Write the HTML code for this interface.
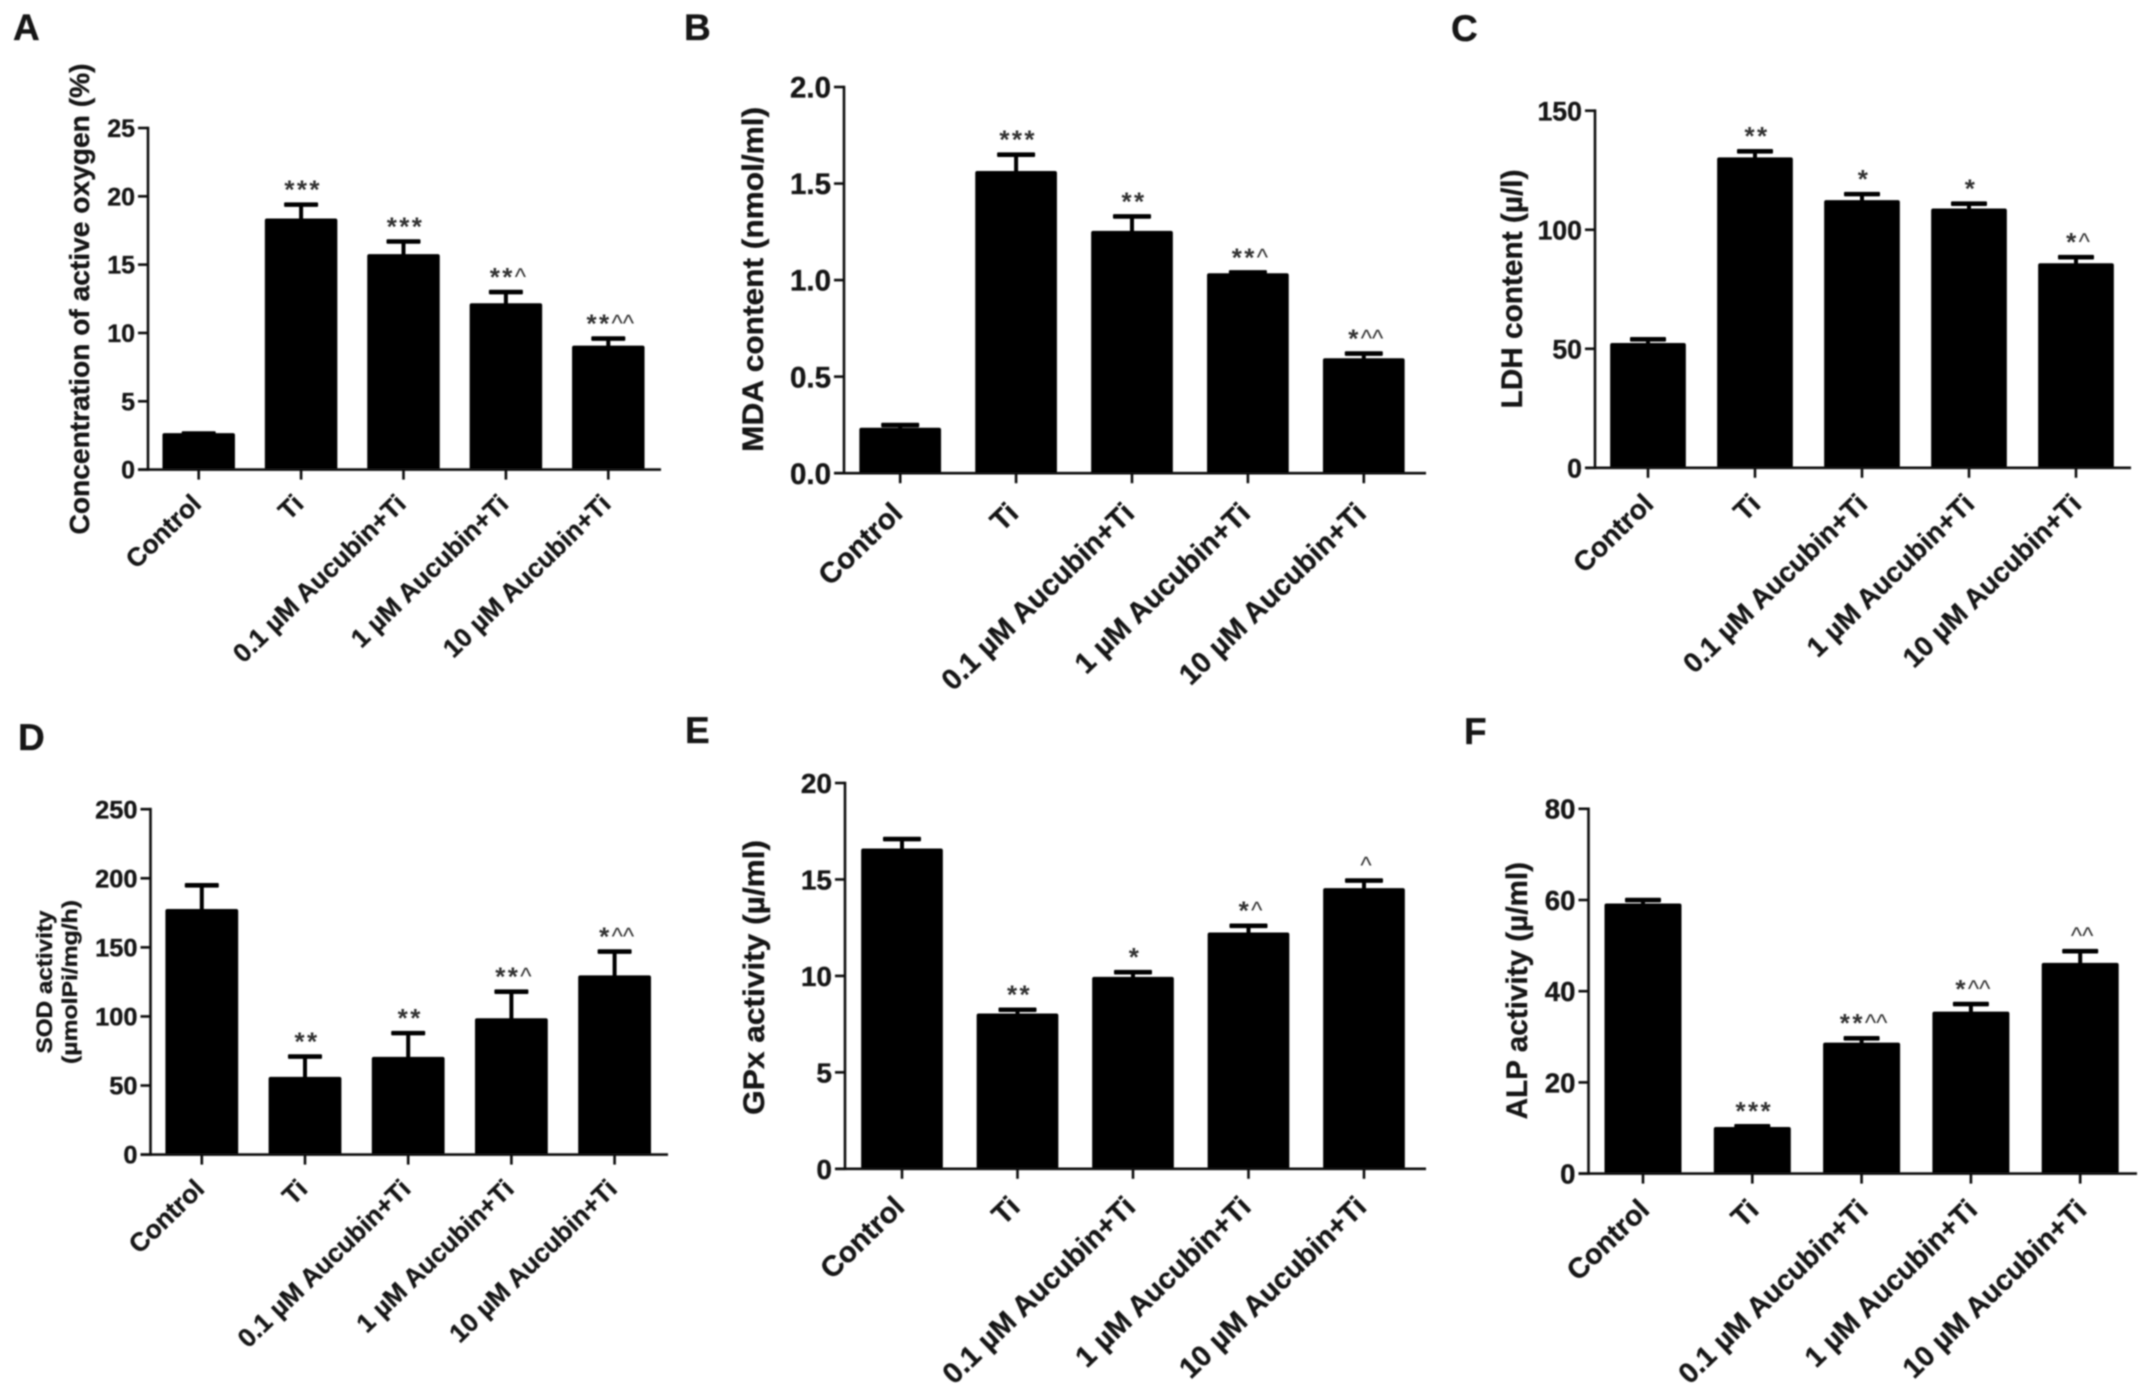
<!DOCTYPE html>
<html lang="en">
<head>
<meta charset="utf-8">
<title>Aucubin bar chart panels</title>
<style>
  html, body { margin: 0; padding: 0; background: #fff; }
  svg { display: block; }
  text { font-family: "Liberation Sans", sans-serif; font-weight: bold; fill: #141414; stroke: #141414; stroke-width: 0.35; }
</style>
</head>
<body>
<svg id="figure" xmlns="http://www.w3.org/2000/svg" width="2150" height="1396" viewBox="0 0 2150 1396">
  <defs>
    <filter id="soft" x="-5%" y="-5%" width="110%" height="110%"><feGaussianBlur stdDeviation="0.8"/></filter>
  </defs>
  <rect width="2150" height="1396" fill="#fff"/>
  <g id="root" filter="url(#soft)">
    <text x="13" y="40" font-size="37">A</text>
    <text x="684" y="40" font-size="37">B</text>
    <text x="1451" y="41" font-size="37">C</text>
    <text x="18" y="750" font-size="37">D</text>
    <text x="685" y="743" font-size="37">E</text>
    <text x="1464" y="744" font-size="37">F</text>
  </g>
</svg>
<script>
const categories = ["Control", "Ti", "0.1 µM Aucubin+Ti", "1 µM Aucubin+Ti", "10 µM Aucubin+Ti"];

const oxygenValues = [2.6, 18.3, 15.7, 12.1, 9.0];
const oxygenErrorTops = [2.65, 19.4, 16.7, 13.0, 9.6];
const oxygenTicks = ["0", "5", "10", "15", "20", "25"];
const oxygenNotes = ["", "***", "***", "**^", "**^^"];

const mdaValues = [0.23, 1.56, 1.25, 1.03, 0.59];
const mdaErrorTops = [0.25, 1.65, 1.33, 1.04, 0.62];
const mdaTicks = ["0.0", "0.5", "1.0", "1.5", "2.0"];
const mdaNotes = ["", "***", "**", "**^", "*^^"];

const ldhValues = [52, 130, 112, 108.5, 85.5];
const ldhErrorTops = [54, 133, 115, 111, 88.5];
const ldhTicks = ["0", "50", "100", "150"];
const ldhNotes = ["", "**", "*", "*", "*^"];

const sodValues = [177, 55.5, 70, 98, 129];
const sodErrorTops = [195, 71, 88, 118, 147];
const sodTicks = ["0", "50", "100", "150", "200", "250"];
const sodNotes = ["", "**", "**", "**^", "*^^"];

const gpxValues = [16.55, 8.0, 9.9, 12.2, 14.5];
const gpxErrorTops = [17.1, 8.25, 10.2, 12.6, 14.95];
const gpxTicks = ["0", "5", "10", "15", "20"];
const gpxNotes = ["", "**", "*", "*^", "^"];

const alpValues = [59, 10, 28.5, 35.3, 46];
const alpErrorTops = [60, 10.4, 29.7, 37.2, 48.8];
const alpTicks = ["0", "20", "40", "60", "80"];
const alpNotes = ["", "***", "**^^", "*^^", "^^"];

const NS = "http://www.w3.org/2000/svg";
const root = document.getElementById("root");

function make(tag, attrs, parent) {
  const el = document.createElementNS(NS, tag);
  for (const k in attrs) el.setAttribute(k, attrs[k]);
  parent.appendChild(el);
  return el;
}

function drawPanel(p) {
  const g = make("g", {}, root);
  
  

  const yMax = parseFloat(p.ticks[p.ticks.length - 1]);
  const yScale = function (v) { return p.bottom - (v / yMax) * (p.bottom - p.top); };
  const xScale = function (i) { return p.first + i * p.step; };

  p.values.forEach(function (v, i) {
    const cx = xScale(i);
    const errorTop = yScale(p.errorTops[i]);

    const stem = make("rect", { x: cx - 2, y: errorTop, width: 4, height: yScale(v) - errorTop + 2, fill: "#000" }, g);
    
    

    const cap = make("rect", { x: cx - p.cap / 2, y: errorTop - 2.2, width: p.cap, height: 4.6, rx: 1, fill: "#000" }, g);
    
    

    const bar = make("rect", { x: cx - p.barW / 2, y: yScale(v) - 1, width: p.barW, height: p.bottom - yScale(v) + 1, rx: 2, fill: "#000" }, g);
    
    

    if (p.notes[i]) {
      const note = make("text", { x: cx + 2, y: errorTop - 6, "text-anchor": "middle", style: "stroke:none;fill:#333" }, g);
      
      
      const stars = p.notes[i].replace(/\^/g, "");
      const carets = p.notes[i].replace(/\*/g, "");
      if (stars) {
        const starSpan = make("tspan", { "font-size": 26, "letter-spacing": 2.4 }, note);
        starSpan.textContent = stars;
      }
      if (carets) {
        const caretSpan = make("tspan", { "font-size": 24, dy: -1, style: "font-weight:normal" }, note);
        caretSpan.textContent = carets;
      }
    }

    const xTick = make("line", { x1: cx, x2: cx, y1: p.bottom, y2: p.bottom + 10, stroke: "#111", "stroke-width": 2.6 }, g);
    
    

    const lx = cx + p.labelDx, ly = p.bottom + p.labelDy;
    const label = make("text", { x: lx, y: ly, "font-size": p.xFont, "text-anchor": "end", transform: "rotate(-44 " + lx + " " + ly + ")" }, g);
    label.textContent = categories[i];
    
    
  });

  const yAxis = make("line", { x1: p.axisX, x2: p.axisX, y1: p.top - 1.3, y2: p.bottom + 1.3, stroke: "#111", "stroke-width": 2.6 }, g);
  
  

  const xAxis = make("line", { x1: p.axisX - 10, x2: p.endX, y1: p.bottom, y2: p.bottom, stroke: "#111", "stroke-width": 2.6 }, g);
  
  

  p.ticks.forEach(function (t) {
    const y = yScale(parseFloat(t));

    const tick = make("line", { x1: p.axisX - 10, x2: p.axisX, y1: y, y2: y, stroke: "#111", "stroke-width": 2.6 }, g);
    
    

    const label = make("text", { x: p.axisX - 13, y: y + p.yFont * 0.36, "font-size": p.yFont, "text-anchor": "end" }, g);
    label.textContent = t;
    
    
  });

  p.titles.forEach(function (title) {
    const t = make("text", {
      x: 0, y: 0, "font-size": title.size, "text-anchor": "middle",
      textLength: title.length, lengthAdjust: "spacingAndGlyphs",
      transform: "translate(" + title.x + " " + title.y + ") rotate(-90)"
    }, g);
    t.textContent = title.text;
    
    
  });
}

drawPanel({ name: "panel-a-active-oxygen", values: oxygenValues, errorTops: oxygenErrorTops, ticks: oxygenTicks, notes: oxygenNotes,
  axisX: 148, top: 128, bottom: 469.6, endX: 661, first: 198.7, step: 102.4, barW: 72.5, cap: 34, yFont: 25, xFont: 26, labelDx: 4, labelDy: 36,
  titles: [{ text: "Concentration of active oxygen (%)", size: 28, x: 89, y: 299, length: 471 }] });

drawPanel({ name: "panel-b-mda-content", values: mdaValues, errorTops: mdaErrorTops, ticks: mdaTicks, notes: mdaNotes,
  axisX: 844, top: 87, bottom: 473.2, endX: 1426, first: 900.2, step: 115.9, barW: 81.7, cap: 38, yFont: 29.5, xFont: 29, labelDx: 4, labelDy: 42,
  titles: [{ text: "MDA content (nmol/ml)", size: 30, x: 763, y: 279.4, length: 345 }] });

drawPanel({ name: "panel-c-ldh-content", values: ldhValues, errorTops: ldhErrorTops, ticks: ldhTicks, notes: ldhNotes,
  axisX: 1595, top: 110.7, bottom: 467.8, endX: 2131, first: 1648, step: 107, barW: 75.7, cap: 36, yFont: 26.7, xFont: 27.7, labelDx: 7, labelDy: 38,
  titles: [{ text: "LDH content (µ/l)", size: 30, x: 1522, y: 289, length: 239 }] });

drawPanel({ name: "panel-d-sod-activity", values: sodValues, errorTops: sodErrorTops, ticks: sodTicks, notes: sodNotes,
  axisX: 150.5, top: 809.2, bottom: 1154.6, endX: 668, first: 201.8, step: 103.2, barW: 72.8, cap: 34, yFont: 25.4, xFont: 26, labelDx: 4, labelDy: 36,
  titles: [{ text: "SOD activity", size: 22, x: 52, y: 982, length: 143 },
           { text: "(µmolPi/mg/h)", size: 21, x: 77, y: 982, length: 164 }] });

drawPanel({ name: "panel-e-gpx-activity", values: gpxValues, errorTops: gpxErrorTops, ticks: gpxTicks, notes: gpxNotes,
  axisX: 845, top: 783, bottom: 1168.8, endX: 1426, first: 902, step: 115.5, barW: 81.7, cap: 38, yFont: 28, xFont: 29, labelDx: 4, labelDy: 40,
  titles: [{ text: "GPx activity (µ/ml)", size: 30, x: 764, y: 977.4, length: 275 }] });

drawPanel({ name: "panel-f-alp-activity", values: alpValues, errorTops: alpErrorTops, ticks: alpTicks, notes: alpNotes,
  axisX: 1588.5, top: 808.8, bottom: 1173.6, endX: 2137, first: 1643, step: 109.3, barW: 77, cap: 36, yFont: 27.6, xFont: 28.5, labelDx: 8, labelDy: 38,
  titles: [{ text: "ALP activity (µ/ml)", size: 30, x: 1527, y: 990.7, length: 257.4 }] });
</script>
</body>
</html>
